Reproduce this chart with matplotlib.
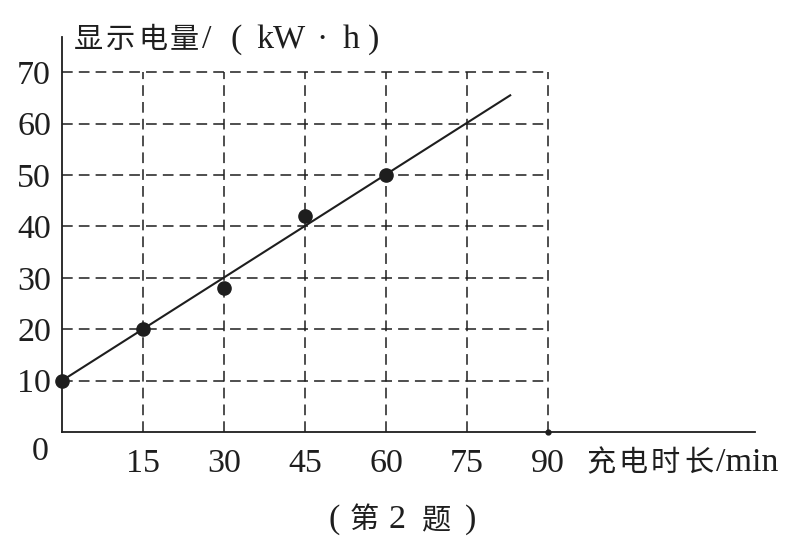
import matplotlib
matplotlib.use("Agg")
import matplotlib.pyplot as plt

# data
x_pts = [0, 15, 30, 45, 60]
y_pts = [10, 20, 28, 42, 50]
fit_x = [0, 83]
fit_y = [10, 65.5]
x_ticks = [15, 30, 45, 60, 75, 90]
y_ticks = [10, 20, 30, 40, 50, 60, 70]

SERIF = ["Liberation Serif", "DejaVu Serif"]
CJK = ["Noto Sans CJK SC", "DejaVu Sans"]
INK = "#1e1e1e"

W, H = 790, 545
fig = plt.figure(figsize=(W / 100, H / 100), dpi=100)
x0, x1 = 62, 755
y0, y1 = 432, 37
ax = fig.add_axes([x0 / W, (H - y0) / H, (x1 - x0) / W, (y0 - y1) / H])
xmax = (x1 - x0) / 81 * 15
ymax = (y0 - y1) / 51.4 * 10
ax.set_xlim(0, xmax)
ax.set_ylim(0, ymax)
for s in ["top", "right"]:
    ax.spines[s].set_visible(False)
for s in ["left", "bottom"]:
    ax.spines[s].set_linewidth(1.3)
    ax.spines[s].set_color(INK)
    ax.spines[s].set_zorder(5)

dash = dict(color=INK, lw=1.1, dashes=(7, 4), zorder=1)
for yv in y_ticks:
    ax.plot([0, 90], [yv, yv], **dash)
for xv in x_ticks:
    ax.plot([xv, xv], [0, 70], **dash)

ax.plot(fit_x, fit_y, color=INK, lw=1.5, zorder=3)
ax.plot(x_pts, y_pts, "o", color=INK, ms=9.5, zorder=6, clip_on=False)
ax.plot([90], [0], "o", color=INK, ms=3.5, zorder=6, clip_on=False)

ax.set_xticks(x_ticks)
ax.set_yticks(y_ticks)
ax.tick_params(length=0, colors=INK)
ax.set_xticklabels([str(v) for v in x_ticks], fontfamily=SERIF, fontsize=24.5)
ax.set_yticklabels([str(v) for v in y_ticks], fontfamily=SERIF, fontsize=24.5)
ax.tick_params(axis="x", pad=12)
ax.tick_params(axis="y", pad=8)


def place(pieces, y_px):
    for txt, xl, fam in pieces:
        fig.text(xl / W, 1 - y_px / H, txt, fontfamily=fam, color=INK,
                 fontsize=21 if fam is CJK else 24.5, ha="left", va="center")


fig.text(40 / W, 1 - 452 / H, "0", fontfamily=SERIF, fontsize=24.5, color=INK,
         ha="center", va="center")

place([("显", 74, CJK), ("示", 106, CJK), ("电", 138, CJK), ("量", 170, CJK),
       ("/", 202, SERIF), ("(", 231, SERIF), ("kW", 256, SERIF),
       ("·", 316, SERIF), ("h", 343, SERIF), (")", 368, SERIF)], 40)

place([("充", 586, CJK), ("电", 618, CJK), ("时", 651, CJK), ("长", 684, CJK),
       ("/min", 716, SERIF)], 463)

place([("(", 328, SERIF), ("第", 350, CJK), ("2", 388, SERIF),
       ("题", 421, CJK), (")", 465, SERIF)], 520)

fig.savefig("out.png", dpi=100)
